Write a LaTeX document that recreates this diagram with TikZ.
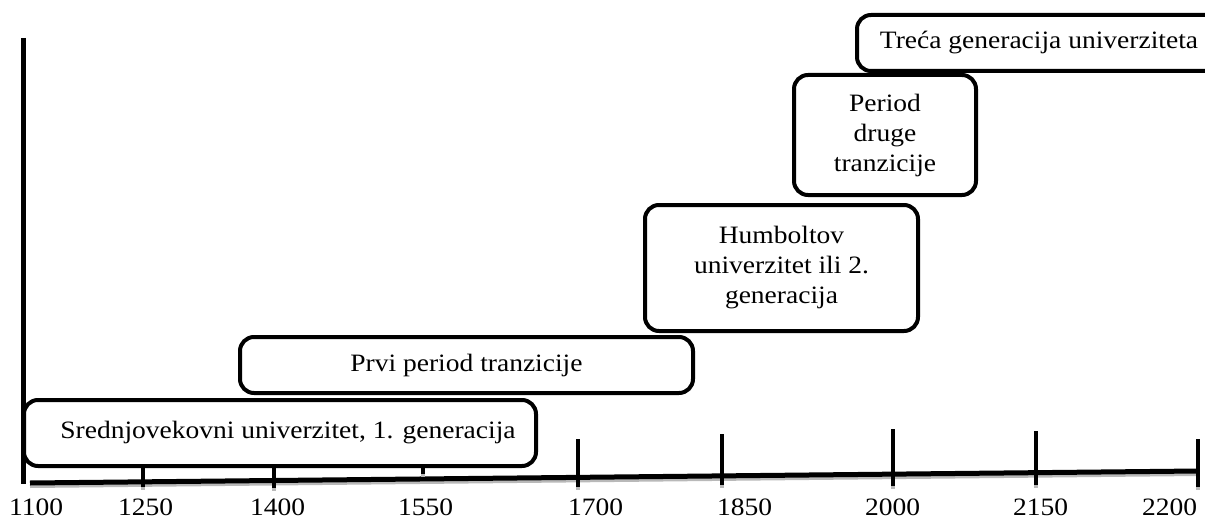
\documentclass[tikz,border=0pt]{standalone}
\usepackage{fontspec}
\setmainfont[FakeStretch=1.1]{Liberation Serif}
\begin{document}
\begin{tikzpicture}[x=1pt,y=-1pt,
  every node/.style={font=\fontsize{25}{30}\selectfont},
  era/.style={draw, line width=4pt, rounded corners=14pt, fill=white,
              align=center, inner sep=0pt},
  tick/.style={line width=3.5pt},
  yearlbl/.style={inner sep=0pt, anchor=base west}]
\clip (0,0) rectangle (1205,519);
\useasboundingbox (0,0) rectangle (1205,519);

% vertical axis
\coordinate (vtop) at (23,38);
\coordinate (vbot) at (23,484);
\draw[line width=5pt] (vtop) -- (vbot);

% time axis with its shadow
\coordinate (hl) at (30,483);
\coordinate (hr) at (1198,471);
\draw[line width=4pt, gray!55] ([yshift=-3pt]hl) -- ([yshift=-3pt]hr);
\draw[line width=5pt] (hl) -- (hr);

% ticks
\foreach \x/\t/\b in {143/455/490, 274/455/491, 423/455/477, 578/439/490,
                      722/434/488, 893/429/489, 1036/431/488, 1198/439/490}{
  \draw[line width=4pt, gray!55] (\x,\b-4) -- (\x,\b);
  \draw[tick] (\x,\t) -- (\x,\b-3);
}

% year labels
\foreach \x/\y in {9/1100, 118/1250, 250/1400, 398/1550, 568/1700,
                   717/1850, 865/2000, 1013/2150, 1142/2200}{
  \node[yearlbl] (y\y) at (\x,515) {\y};
}

% periods
\node[era, minimum width=364pt, minimum height=56pt] (third) at (1039,43)
  {Treća generacija univerziteta};
\node[era, minimum width=182pt, minimum height=120pt] (second) at (885,135)
  {Period\\druge\\tranzicije};
\node[era, minimum width=273pt, minimum height=126pt] (humb) at (781.5,268)
  {Humboltov\\univerzitet ili 2.\\generacija};
\node[era, minimum width=453pt, minimum height=56pt] (first) at (466.5,365)
  {Prvi period tranzicije};
\node[era, minimum width=512pt, minimum height=66pt] (med) at (280,433)
  {\hspace*{16pt}Srednjovekovni univerzitet, 1. generacija};
\end{tikzpicture}
\end{document}
